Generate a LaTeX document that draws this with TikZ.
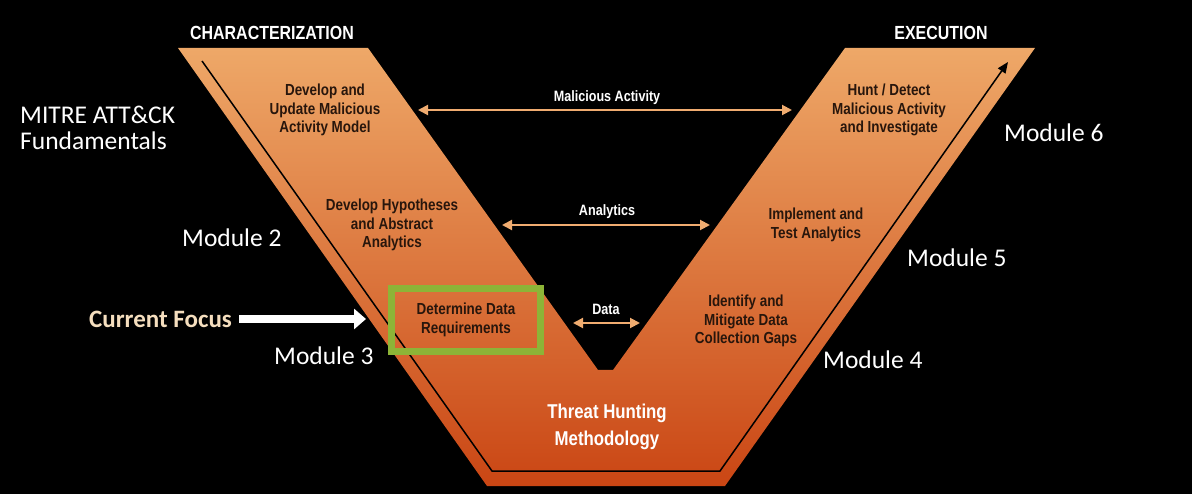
\documentclass[tikz,border=0pt]{standalone}
\usepackage{fontspec}
\setmainfont{Carlito}
\newfontfamily\condfont[FakeStretch=0.84]{Liberation Sans}
\usetikzlibrary{arrows.meta, positioning}

\definecolor{vtop}{RGB}{238,168,104}
\definecolor{vbot}{RGB}{202,70,20}
\definecolor{flowarr}{RGB}{240,172,112}
\definecolor{focusgreen}{RGB}{141,180,55}
\definecolor{focustext}{RGB}{245,222,190}
\definecolor{steptext}{RGB}{40,22,12}

\tikzset{
  stage/.style={font=\condfont\bfseries\fontsize{16}{18.5}\selectfont, text=steptext, align=center},
  module/.style={font=\fontsize{25.5}{26}\selectfont, text=white, align=left, anchor=west, inner sep=0pt},
  phase/.style={font=\condfont\bfseries\fontsize{19}{20}\selectfont, text=white},
  flowlabel/.style={font=\condfont\bfseries\fontsize{15}{16}\selectfont, text=white},
  flow/.style={draw=flowarr, line width=2pt, {Triangle[length=10pt,width=10pt]}-{Triangle[length=10pt,width=10pt]}},
}

\begin{document}
\begin{tikzpicture}[x=1pt, y=-1pt]
\fill[black] (0,0) rectangle (1192,494);
\useasboundingbox (0,0) rectangle (1192,494);

% the V
\shade[top color=vtop, bottom color=vbot]
  (178,48) -- (368,48) -- (598,370) -- (613,370) -- (845,48) -- (1035,48)
  -- (725,486) -- (487,486) -- cycle;

% flow line along the V
\coordinate (lt) at (202,61);
\coordinate (lb) at (492,471);
\coordinate (rb) at (720,471);
\coordinate (rt) at (1008,62);
\draw[black, line width=1.5pt, -{Triangle[length=11pt,width=9pt]}] (lt) -- (lb) -- (rb) -- (rt);

% headings
\node[phase] (char) at (272,33) {CHARACTERIZATION};
\node[phase] (exec) at (941,33) {EXECUTION};

% stages
\node[stage] (model) at (325,110) {Develop and\\Update Malicious\\Activity Model};
\node[stage] (hypo) at (392,225) {Develop Hypotheses\\and Abstract\\Analytics};
\node[stage, draw=focusgreen, line width=7pt, minimum width=149pt, minimum height=63pt] (datareq) at (466,320) {Determine Data\\Requirements};
\node[stage] (hunt) at (889,110) {Hunt / Detect\\Malicious Activity\\and Investigate};
\node[stage] (impl) at (816,225) {Implement and\\Test Analytics};
\node[stage] (gaps) at (746,321) {Identify and\\Mitigate Data\\Collection Gaps};
\node[phase, align=center, font=\condfont\bfseries\fontsize{20}{27}\selectfont] (thm) at (607,427) {Threat Hunting\\Methodology};

% links across the V
\coordinate (ma-l) at (418,110);
\coordinate (ma-r) at (792,110);
\coordinate (an-l) at (502,225);
\coordinate (an-r) at (710,225);
\coordinate (da-l) at (573,323);
\coordinate (da-r) at (640,323);
\draw[flow] (ma-l) -- (ma-r);
\draw[flow] (an-l) -- (an-r);
\draw[flow] (da-l) -- (da-r);
\node[flowlabel] (malact) at (607,98) {Malicious Activity};
\node[flowlabel] (analyt) at (607,212) {Analytics};
\node[flowlabel] (datalbl) at (606,309) {Data};

% modules
\node[module] (fund) at (20,128) {MITRE ATT\&CK\\Fundamentals};
\node[module] (mod2) at (182,238) {Module 2};
\node[module] (mod3) at (274,356) {Module 3};
\node[module] (mod4) at (823,360) {Module 4};
\node[module] (mod5) at (907,258) {Module 5};
\node[module] (mod6) at (1004,133) {Module 6};

% current focus
\node[module, text=focustext, font=\bfseries\fontsize{25}{26}\selectfont] (focus) at (89,319) {Current Focus};
\coordinate (focustip) at (366,319);
\draw[white, line width=8pt, -{Triangle[length=12pt,width=20pt]}, shorten <=7pt] (focus.east) -- (focustip);
\end{tikzpicture}
\end{document}
